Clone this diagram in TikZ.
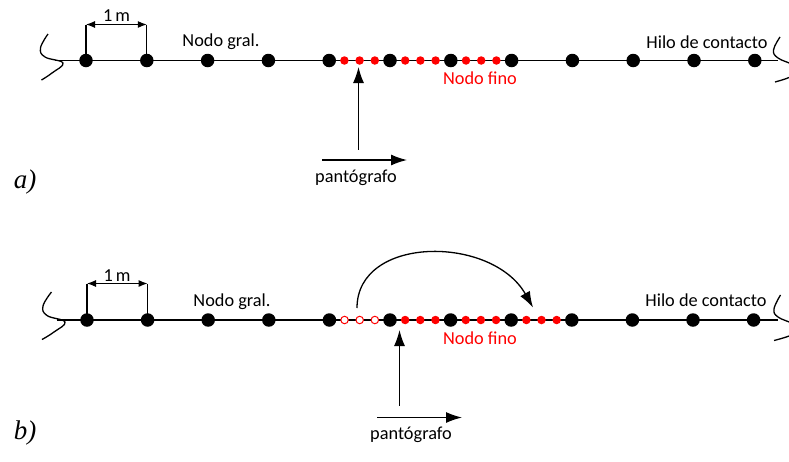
\documentclass[tikz,border=0pt]{standalone}
\usepackage{fontspec}
\setmainfont{Carlito}
\newfontfamily\labfont{Liberation Serif}
\usetikzlibrary{arrows.meta}
\begin{document}
\begin{tikzpicture}[x=1pt,y=-1pt,
  wire/.style={line width=1.3pt},
  big/.style={circle,fill=black,inner sep=0pt,minimum size=13.5pt},
  fine/.style={circle,fill=red,inner sep=0pt,minimum size=8.5pt},
  ghost/.style={circle,draw=red,fill=white,line width=1pt,inner sep=0pt,minimum size=7.5pt},
  lbl/.style={font=\fontsize{18.3}{20}\selectfont,inner sep=0pt},
  redlbl/.style={lbl,text=red},
  panel/.style={font=\labfont\itshape\fontsize{27}{30}\selectfont,inner sep=0pt},
  arr/.style={line width=1.3pt,-{Latex[length=16pt,width=11pt]}},
  dimarr/.style={line width=1.1pt,{Latex[length=9pt,width=7pt]}-{Latex[length=9pt,width=7pt]}},
  squig/.style={line width=1.3pt}
]
\useasboundingbox (0,0) rectangle (789,461);

% ---------------- a) ----------------
\coordinate (aL) at (55,60.5);
\coordinate (aR) at (778,60.5);
\draw[wire] (aL) -- (aR);
\draw[squig] plot[smooth,tension=0.7] coordinates {(48,34) (40.5,48) (45,57) (63,63) (52,73) (41.5,80)};
\draw[squig] plot[smooth,tension=0.7] coordinates {(780,37) (773.5,50) (778,58) (793,65) (797,72) (789,77.5) (775,82)};
\foreach \i in {0,...,11} \node[big] (a\i) at ({86+60.8*\i},60.5) {};
\foreach \k in {4,5,6} {
  \foreach \j in {1,2,3} \node[fine] (ar\k\j) at ({86+60.8*\k+15.2*\j},60.5) {};
}
\coordinate (adim) at (0,24.5);
\draw[wire] (a0.center) -- (a0 |- adim);
\draw[wire] (a1.center) -- (a1 |- adim);
\draw[dimarr] (a0 |- adim) -- (a1 |- adim);
\node[lbl] (am) at (116.5,15.5) {1\,m};
\node[lbl] (agral) at (221,42) {Nodo gral.};
\node[redlbl] (afino) at (480,78) {Nodo fino};
\node[lbl] (ahilo) at (707,42) {Hilo de contacto};
\coordinate (ap0) at (358.5,149.5);
\coordinate (ap1) at (358.5,67);
\draw[arr] (ap0) -- (ap1);
\coordinate (ah0) at (322,160);
\coordinate (ah1) at (407,160);
\draw[arr] (ah0) -- (ah1);
\node[lbl] (apan) at (356,178) {pantógrafo};
\node[panel] (alab) at (25,182) {a)};

% ---------------- b) ----------------
\coordinate (bL) at (57,320);
\coordinate (bR) at (778,320);
\draw[wire] (bL) -- (bR);
\draw[squig] plot[smooth,tension=0.7] coordinates {(51.5,292) (43,306) (47,315.5) (65,322) (54,332) (42,339.5)};
\draw[squig] plot[smooth,tension=0.7] coordinates {(780.5,295) (774,309) (778,317) (793,324) (797,331) (789,336) (774,340.5)};
\foreach \i in {0,...,11} \node[big] (b\i) at ({87+60.6*\i},320) {};
\foreach \j in {1,2,3} \node[ghost] (bo\j) at ({87+60.6*4+15.15*\j},320) {};
\foreach \k in {5,6,7} {
  \foreach \j in {1,2,3} \node[fine] (br\k\j) at ({87+60.6*\k+15.15*\j},320) {};
}
\coordinate (bdim) at (0,283.5);
\draw[wire] (b0.center) -- (b0 |- bdim);
\draw[wire] (b1.center) -- (b1 |- bdim);
\draw[dimarr] (b0 |- bdim) -- (b1 |- bdim);
\node[lbl] (bm) at (117,275.5) {1\,m};
\node[lbl] (bgral) at (232,302) {Nodo gral.};
\node[redlbl] (bfino) at (480,338) {Nodo fino};
\node[lbl] (bhilo) at (706,300) {Hilo de contacto};
\coordinate (bs) at (357,308);
\coordinate (be) at (533,307.5);
\draw[arr] (bs) .. controls (357,235) and (492,235) .. (be);
\coordinate (bp0) at (399.5,405.5);
\coordinate (bp1) at (399.5,330);
\draw[arr] (bp0) -- (bp1);
\coordinate (bh0) at (377,417.5);
\coordinate (bh1) at (462,417.5);
\draw[arr] (bh0) -- (bh1);
\node[lbl] (bpan) at (411,435) {pantógrafo};
\node[panel] (blab) at (25,433) {b)};
\end{tikzpicture}
\end{document}
